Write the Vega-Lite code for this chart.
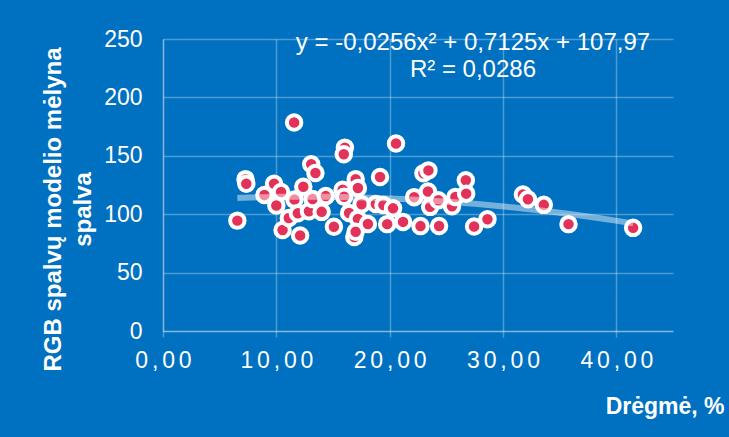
{
  "$schema": "https://vega.github.io/schema/vega-lite/v6.json",
  "autosize": "none",
  "padding": {"left": 163, "top": 39, "right": 56, "bottom": 106},
  "width": 510,
  "height": 292,
  "background": "#0070C0",
  "config": {
    "view": {"stroke": null},
    "font": "Liberation Sans",
    "axis": {
      "gridColor": "#FFFFFF",
      "gridOpacity": 0.3,
      "gridWidth": 1.5,
      "domainColor": "#FFFFFF",
      "domainOpacity": 0.3,
      "domainWidth": 1.5,
      "tickColor": "#FFFFFF",
      "tickOpacity": 0.3,
      "tickWidth": 1.5,
      "labelColor": "#FFFFFF",
      "labelFont": "Liberation Sans",
      "labelFontSize": 23,
      "labelFlush": false,
      "titleColor": "#FFFFFF",
      "titleFont": "Liberation Sans",
      "titleFontSize": 23,
      "titleFontWeight": "bold"
    }
  },
  "layer": [
    {
      "data": {
        "values": [
          {"dregme": 6.56, "melyna": 94.5},
          {"dregme": 7.28, "melyna": 130},
          {"dregme": 7.35, "melyna": 126},
          {"dregme": 8.95, "melyna": 116.5},
          {"dregme": 9.8, "melyna": 126},
          {"dregme": 10.42, "melyna": 119},
          {"dregme": 10.0, "melyna": 107.5},
          {"dregme": 10.55, "melyna": 86.5},
          {"dregme": 11.57, "melyna": 178.5},
          {"dregme": 11.6, "melyna": 112.5},
          {"dregme": 11.1, "melyna": 96.8},
          {"dregme": 11.9, "melyna": 100.8},
          {"dregme": 12.1, "melyna": 81.8},
          {"dregme": 12.38, "melyna": 123.5},
          {"dregme": 13.08, "melyna": 142.8},
          {"dregme": 13.45, "melyna": 135.3},
          {"dregme": 12.88, "melyna": 102.5},
          {"dregme": 13.2, "melyna": 113},
          {"dregme": 14.0, "melyna": 102},
          {"dregme": 14.36, "melyna": 115.5},
          {"dregme": 15.08, "melyna": 89.3},
          {"dregme": 16.05, "melyna": 157},
          {"dregme": 15.95, "melyna": 151.3},
          {"dregme": 15.85, "melyna": 121},
          {"dregme": 15.98, "melyna": 115},
          {"dregme": 16.42, "melyna": 101},
          {"dregme": 17.0, "melyna": 130},
          {"dregme": 17.2, "melyna": 122.5},
          {"dregme": 17.52, "melyna": 108.5},
          {"dregme": 17.2, "melyna": 96},
          {"dregme": 16.88, "melyna": 80.5},
          {"dregme": 17.0, "melyna": 85},
          {"dregme": 18.08, "melyna": 91.6},
          {"dregme": 18.78, "melyna": 108.8},
          {"dregme": 19.15, "melyna": 131.8},
          {"dregme": 19.45, "melyna": 107.8},
          {"dregme": 20.3, "melyna": 105},
          {"dregme": 19.78, "melyna": 91.5},
          {"dregme": 20.56, "melyna": 160.5},
          {"dregme": 21.18, "melyna": 93.4},
          {"dregme": 22.16, "melyna": 114.6},
          {"dregme": 22.72, "melyna": 89.8},
          {"dregme": 22.98, "melyna": 135},
          {"dregme": 23.42, "melyna": 137.5},
          {"dregme": 23.38, "melyna": 119.5},
          {"dregme": 23.57, "melyna": 106.3},
          {"dregme": 24.3, "melyna": 112},
          {"dregme": 24.36, "melyna": 89.9},
          {"dregme": 25.5, "melyna": 106.8},
          {"dregme": 25.8, "melyna": 114.7},
          {"dregme": 26.72, "melyna": 129},
          {"dregme": 26.75, "melyna": 117.6},
          {"dregme": 27.45, "melyna": 89.5},
          {"dregme": 28.63, "melyna": 95.7},
          {"dregme": 31.76, "melyna": 116.8},
          {"dregme": 32.2, "melyna": 112.8},
          {"dregme": 33.6, "melyna": 108},
          {"dregme": 35.78, "melyna": 91.5},
          {"dregme": 41.48, "melyna": 88.3}
        ],
        "name": "matavimai"
      },
      "layer": [
        {
          "mark": {"type": "point", "shape": "circle", "filled": true, "size": 210, "fill": "#E3325A", "stroke": "#FFFFFF", "strokeWidth": 4, "opacity": 1},
          "encoding": {
            "x": {
              "field": "dregme",
              "type": "quantitative",
              "scale": {"domain": [0, 45], "nice": false, "zero": false},
              "axis": {
                "values": [0, 10, 20, 30, 40],
                "title": "Drėgmė, %",
                "titleX": 561,
                "titleY": 82,
                "titleAlign": "right",
                "titleAnchor": null,
                "titleBaseline": "alphabetic",
                "grid": true,
                "ticks": true,
                "tickSize": 6,
                "labelPadding": 12,
                "labelExpr": "join(split(replace(format(datum.value, '.2f'), '.', ','), ''), '\u200a\u200a')"
              }
            },
            "y": {
              "field": "melyna",
              "type": "quantitative",
              "scale": {"domain": [0, 250], "nice": false},
              "axis": {
                "values": [0, 50, 100, 150, 200, 250],
                "title": ["RGB spalvų modelio mėlyna", "spalva"],
                "titleX": -110,
                "titleY": 170,
                "titleFontSize": 24,
                "titleAlign": "center",
                "titleBaseline": "middle",
                "titleLineHeight": 30,
                "grid": true,
                "ticks": false,
                "tickSize": 0,
                "labelPadding": 21
              }
            }
          }
        },
        {
          "transform": [{"regression": "melyna", "on": "dregme", "method": "poly", "order": 2}],
          "mark": {"type": "line", "stroke": "#FFFFFF", "strokeOpacity": 0.45, "strokeWidth": 6},
          "encoding": {
            "x": {"field": "dregme", "type": "quantitative"},
            "y": {"field": "melyna", "type": "quantitative"}
          }
        }
      ]
    },
    {
      "data": {"values": [{"lygtis": "y = -0,0256x² + 0,7125x + 107,97", "r2": "R² = 0,0286"}]},
      "mark": {"type": "text", "color": "#FFFFFF", "fontSize": 24, "fontWeight": "normal", "font": "Liberation Sans", "align": "center", "baseline": "middle", "lineHeight": 27},
      "encoding": {
        "x": {"datum": 27.35, "type": "quantitative"},
        "y": {"datum": 247, "type": "quantitative"},
        "text": {"value": ["y = -0,0256x² + 0,7125x + 107,97", "R² = 0,0286"]}
      }
    }
  ]
}
